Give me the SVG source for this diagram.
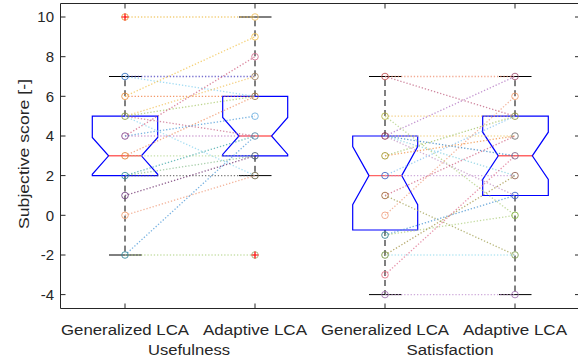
<svg xmlns="http://www.w3.org/2000/svg" width="578" height="361" viewBox="0 0 578 361">
  <style>
    text { font-family: "Liberation Sans", Arial, sans-serif; fill: #262626; }
    .tl { font-size: 15px; text-anchor: end; }
    .xl { font-size: 15.5px; text-anchor: middle; }
    .ax { fill: none; stroke: #262626; stroke-width: 1; }
    .box { fill: none; stroke: #0000ff; stroke-width: 1.2; }
    .med { stroke: #ff0000; stroke-width: 1.4; opacity: 0.6; }
    .wh { stroke: #000; stroke-width: 1; stroke-dasharray: 6 4; }
    .cap { stroke: #000; stroke-width: 1; }
    .out { stroke: #ff0000; stroke-width: 1.2; }
    .ln line { stroke-width: 1.3; stroke-dasharray: 1.3 1.9; opacity: 0.75; }
    .pt circle { fill: none; stroke-width: 1; r: 3.3; opacity: 0.85; }
  </style>

  <rect width="578" height="361" fill="#ffffff"/>

  <!-- axes frame and ticks -->
  <g id="axes">
    <path class="ax" d="M60.5,308.5 V3.5 H580 M60.5,308.5 H580"/>
    <path class="ax" d="M60.5,17 h5 M60.5,56.7 h5 M60.5,96.3 h5 M60.5,136 h5 M60.5,175.6 h5 M60.5,215.3 h5 M60.5,255 h5 M60.5,294.6 h5"/>
    <path class="ax" d="M575,17 h5 M575,56.7 h5 M575,96.3 h5 M575,136 h5 M575,175.6 h5 M575,215.3 h5 M575,255 h5 M575,294.6 h5"/>
    <path class="ax" d="M125,308.5 v-5 M255,308.5 v-5 M385,308.5 v-5 M515,308.5 v-5 M125,3.5 v5 M255,3.5 v5 M385,3.5 v5 M515,3.5 v5"/>
    <text class="tl" x="54" y="22.4">10</text>
    <text class="tl" x="54" y="62.1">8</text>
    <text class="tl" x="54" y="101.7">6</text>
    <text class="tl" x="54" y="141.4">4</text>
    <text class="tl" x="54" y="181">2</text>
    <text class="tl" x="54" y="220.7">0</text>
    <text class="tl" x="54" y="260.4">-2</text>
    <text class="tl" x="54" y="300">-4</text>
    <text class="xl" x="125" y="335" textLength="128" lengthAdjust="spacingAndGlyphs">Generalized LCA</text>
    <text class="xl" x="255" y="335" textLength="104" lengthAdjust="spacingAndGlyphs">Adaptive LCA</text>
    <text class="xl" x="385" y="335" textLength="128" lengthAdjust="spacingAndGlyphs">Generalized LCA</text>
    <text class="xl" x="515" y="335" textLength="104" lengthAdjust="spacingAndGlyphs">Adaptive LCA</text>
    <text class="xl" x="189" y="355" textLength="82" lengthAdjust="spacingAndGlyphs">Usefulness</text>
    <text class="xl" x="450" y="355" textLength="87" lengthAdjust="spacingAndGlyphs">Satisfaction</text>
    <text class="xl" transform="translate(28.5,154) rotate(-90)" x="0" y="0" textLength="150" lengthAdjust="spacingAndGlyphs">Subjective score [-]</text>
  </g>

  <!-- box plots -->
  <g id="box-usefulness-generalized">
    <line class="wh" x1="125" y1="116.2" x2="125" y2="76.5"/>
    <line class="wh" x1="125" y1="175.6" x2="125" y2="255"/>
    <line class="cap" x1="109" y1="76.5" x2="142" y2="76.5"/>
    <line class="cap" x1="109" y1="255" x2="142" y2="255"/>
    <path class="box" d="M92.3,116.2 H157.7 V137.4 L141.4,155.8 L157.7,174.3 V175.6 H92.3 V174.3 L108.6,155.8 L92.3,137.4 Z"/>
    <line class="med" x1="108.6" y1="155.8" x2="141.4" y2="155.8"/>
  </g>
  <g id="box-usefulness-adaptive">
    <line class="wh" x1="255" y1="96.3" x2="255" y2="17"/>
    <line class="wh" x1="255" y1="155.8" x2="255" y2="175.6"/>
    <line class="cap" x1="239" y1="17" x2="271.5" y2="17"/>
    <line class="cap" x1="239" y1="175.6" x2="271.5" y2="175.6"/>
    <path class="box" d="M222.7,96.3 H287.7 V117.5 L271.5,136 L287.7,154.4 V155.8 H222.7 V154.4 L239,136 L222.7,117.5 Z"/>
    <line class="med" x1="239" y1="136" x2="271.5" y2="136"/>
  </g>
  <g id="box-satisfaction-generalized">
    <line class="wh" x1="385" y1="136" x2="385" y2="76.5"/>
    <line class="wh" x1="385" y1="230" x2="385" y2="294.6"/>
    <line class="cap" x1="369" y1="76.5" x2="401.7" y2="76.5"/>
    <line class="cap" x1="369" y1="294.6" x2="401.7" y2="294.6"/>
    <path class="box" d="M352.7,136 H417.7 V146.5 L401.7,175.6 L417.7,204.7 V230 H352.7 V204.7 L369,175.6 L352.7,146.5 Z"/>
    <line class="med" x1="369" y1="175.6" x2="401.7" y2="175.6"/>
  </g>
  <g id="box-satisfaction-adaptive">
    <line class="wh" x1="515" y1="116.2" x2="515" y2="76.5"/>
    <line class="wh" x1="515" y1="195.5" x2="515" y2="294.6"/>
    <line class="cap" x1="499" y1="76.5" x2="531.5" y2="76.5"/>
    <line class="cap" x1="499" y1="294.6" x2="531.5" y2="294.6"/>
    <path class="box" d="M482.7,116.2 H548.3 V132.2 L532.3,155.8 L548.3,179.4 V195.5 H482.7 V179.4 L498.3,155.8 L482.7,132.2 Z"/>
    <line class="med" x1="498.3" y1="155.8" x2="532.3" y2="155.8"/>
  </g>

  <!-- paired ratings, one dotted line per participant -->
  <g id="connectors">
    <g class="ln">
      <line x1="125" y1="17" x2="255" y2="17" stroke="#f0c050"/>
      <line x1="125" y1="76.5" x2="255" y2="76.5" stroke="#4a3fc0"/>
      <line x1="125" y1="76.5" x2="255" y2="96.3" stroke="#80d0f0"/>
      <line x1="125" y1="96.3" x2="255" y2="96.3" stroke="#f07838"/>
      <line x1="125" y1="96.3" x2="255" y2="36.8" stroke="#f2c24a"/>
      <line x1="125" y1="116.2" x2="255" y2="76.5" stroke="#f2c25a"/>
      <line x1="125" y1="116.2" x2="255" y2="96.3" stroke="#a8c868"/>
      <line x1="125" y1="136" x2="255" y2="56.7" stroke="#d06080"/>
      <line x1="125" y1="155.8" x2="255" y2="96.3" stroke="#f09060"/>
      <line x1="125" y1="116.2" x2="255" y2="136" stroke="#c86a8a"/>
      <line x1="125" y1="116.2" x2="255" y2="175.6" stroke="#8ad4f0"/>
      <line x1="125" y1="136" x2="255" y2="136" stroke="#c58ac8"/>
      <line x1="125" y1="136" x2="255" y2="116.2" stroke="#4a9ad8"/>
      <line x1="125" y1="155.8" x2="255" y2="155.8" stroke="#b4d690"/>
      <line x1="125" y1="175.6" x2="255" y2="155.8" stroke="#8cc090"/>
      <line x1="125" y1="175.6" x2="255" y2="175.6" stroke="#505050"/>
      <line x1="125" y1="175.6" x2="255" y2="136" stroke="#40a8a8"/>
      <line x1="125" y1="195.5" x2="255" y2="155.8" stroke="#6a2a6a"/>
      <line x1="125" y1="215.3" x2="255" y2="175.6" stroke="#f09a78"/>
      <line x1="125" y1="255" x2="255" y2="136" stroke="#4a98d8"/>
      <line x1="125" y1="255" x2="255" y2="255" stroke="#b8d890"/>

      <line x1="385" y1="76.5" x2="515" y2="76.5" stroke="#f09070"/>
      <line x1="385" y1="76.5" x2="515" y2="116.2" stroke="#c06080"/>
      <line x1="385" y1="116.2" x2="515" y2="116.2" stroke="#f0c060"/>
      <line x1="385" y1="116.2" x2="515" y2="215.3" stroke="#b0d080"/>
      <line x1="385" y1="136" x2="515" y2="76.5" stroke="#b070c0"/>
      <line x1="385" y1="136" x2="515" y2="136" stroke="#f0d080"/>
      <line x1="385" y1="136" x2="515" y2="155.8" stroke="#3080c0"/>
      <line x1="385" y1="136" x2="515" y2="175.6" stroke="#80d0e0"/>
      <line x1="385" y1="136" x2="515" y2="195.5" stroke="#c090c0"/>
      <line x1="385" y1="155.8" x2="515" y2="116.2" stroke="#a0c060"/>
      <line x1="385" y1="155.8" x2="515" y2="136" stroke="#f09040"/>
      <line x1="385" y1="175.6" x2="515" y2="116.2" stroke="#80c0f0"/>
      <line x1="385" y1="175.6" x2="515" y2="175.6" stroke="#c090d0"/>
      <line x1="385" y1="195.5" x2="515" y2="255" stroke="#a0a050"/>
      <line x1="385" y1="195.5" x2="515" y2="136" stroke="#d06080"/>
      <line x1="385" y1="215.3" x2="515" y2="96.3" stroke="#f0a080"/>
      <line x1="385" y1="235.1" x2="515" y2="195.5" stroke="#4090d0"/>
      <line x1="385" y1="235.1" x2="515" y2="215.3" stroke="#b0d080"/>
      <line x1="385" y1="255" x2="515" y2="255" stroke="#a0e0f0"/>
      <line x1="385" y1="255" x2="515" y2="175.6" stroke="#a09040"/>
      <line x1="385" y1="274.8" x2="515" y2="155.8" stroke="#e07090"/>
      <line x1="385" y1="294.6" x2="515" y2="294.6" stroke="#c090d0"/>
    </g>
  </g>

  <!-- individual ratings -->
  <g id="points-usefulness-generalized" class="pt">
    <circle cx="125" cy="17" stroke="#e8a040"/>
    <circle cx="125" cy="76.5" stroke="#3070c0"/>
    <circle cx="125" cy="96.3" stroke="#e89040"/>
    <circle cx="125" cy="116.2" stroke="#8a9a40"/>
    <circle cx="125" cy="136" stroke="#80408a"/>
    <circle cx="125" cy="155.8" stroke="#e08030"/>
    <circle cx="125" cy="175.6" stroke="#308a9a"/>
    <circle cx="125" cy="195.5" stroke="#704080"/>
    <circle cx="125" cy="215.3" stroke="#f0a070"/>
    <circle cx="125" cy="255" stroke="#308a9a"/>
  </g>
  <g id="points-usefulness-adaptive" class="pt">
    <circle cx="255" cy="17" stroke="#f0c060"/>
    <circle cx="255" cy="36.8" stroke="#f0c050"/>
    <circle cx="255" cy="56.7" stroke="#d07090"/>
    <circle cx="255" cy="76.5" stroke="#a08060"/>
    <circle cx="255" cy="96.3" stroke="#a07040"/>
    <circle cx="255" cy="116.2" stroke="#70b0e0"/>
    <circle cx="255" cy="136" stroke="#5080a0"/>
    <circle cx="255" cy="155.8" stroke="#405070"/>
    <circle cx="255" cy="175.6" stroke="#6a6040"/>
    <circle cx="255" cy="255" stroke="#a0b070"/>
  </g>
  <g id="points-satisfaction-generalized" class="pt">
    <circle cx="385" cy="76.5" stroke="#c05050"/>
    <circle cx="385" cy="116.2" stroke="#b0b040"/>
    <circle cx="385" cy="136" stroke="#802040"/>
    <circle cx="385" cy="155.8" stroke="#a09020"/>
    <circle cx="385" cy="175.6" stroke="#4060c0"/>
    <circle cx="385" cy="195.5" stroke="#a06030"/>
    <circle cx="385" cy="215.3" stroke="#f0a080"/>
    <circle cx="385" cy="235.1" stroke="#308090"/>
    <circle cx="385" cy="255" stroke="#709040"/>
    <circle cx="385" cy="274.8" stroke="#e07080"/>
    <circle cx="385" cy="294.6" stroke="#a070b0"/>
  </g>
  <g id="points-satisfaction-adaptive" class="pt">
    <circle cx="515" cy="76.5" stroke="#a05070"/>
    <circle cx="515" cy="96.3" stroke="#f0a070"/>
    <circle cx="515" cy="116.2" stroke="#909040"/>
    <circle cx="515" cy="136" stroke="#707070"/>
    <circle cx="515" cy="155.8" stroke="#806080"/>
    <circle cx="515" cy="175.6" stroke="#906050"/>
    <circle cx="515" cy="195.5" stroke="#4060c0"/>
    <circle cx="515" cy="215.3" stroke="#80b040"/>
    <circle cx="515" cy="255" stroke="#80a050"/>
    <circle cx="515" cy="294.6" stroke="#a070b0"/>
  </g>

  <!-- outliers -->
  <g id="outliers">
    <path class="out" d="M121.5,17 h7 M125,13.5 v7"/>
    <path class="out" d="M251.5,255 h7 M255,251.5 v7"/>
  </g>
</svg>
